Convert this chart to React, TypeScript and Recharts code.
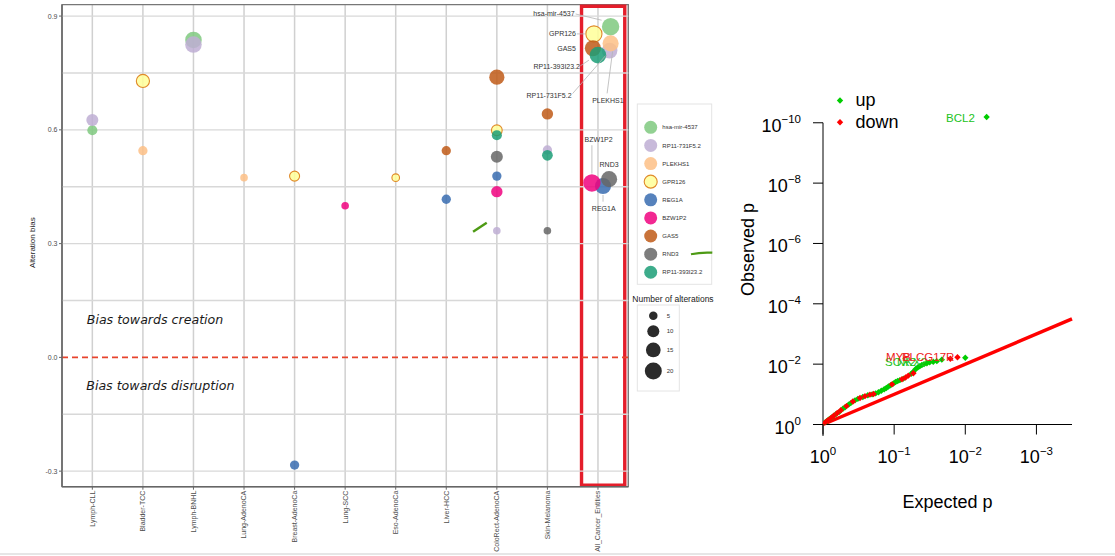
import React from "react";
import {
  ScatterChart,
  Scatter,
  XAxis,
  YAxis,
  CartesianGrid,
  ReferenceLine,
  ReferenceArea,
  ReferenceDot,
} from "recharts";

const SANS = "'Liberation Sans', Arial, Helvetica, sans-serif";

// ---------- left panel: alteration bias per cancer entity ----------
const cancerTypes = [
  "Lymph-CLL",
  "Bladder-TCC",
  "Lymph-BNHL",
  "Lung-AdenoCA",
  "Breast-AdenoCa",
  "Lung-SCC",
  "Eso-AdenoCa",
  "Liver-HCC",
  "ColoRect-AdenoCA",
  "Skin-Melanoma",
  "All_Cancer_Entities",
];

const genes = [
  "hsa-mir-4537",
  "RP11-731F5.2",
  "PLEKHS1",
  "GPR126",
  "REG1A",
  "BZW1P2",
  "GAS5",
  "RND3",
  "RP11-393I23.2",
];
const geneColors = [
  "#7fc97f",
  "#beaed4",
  "#fdc086",
  "#ffff99",
  "#386cb0",
  "#f0027f",
  "#bf5b17",
  "#666666",
  "#1b9e77",
];

// [cancer type index (jittered in the last column), alteration bias, number of alterations]
const hsaMir4537 = [[0, 0.599, 7], [2, 0.837, 19], [10.25, 0.872, 21]];
const rp11731F52 = [[0, 0.626, 10], [2, 0.825, 19], [8, 0.334, 4], [9, 0.547, 6], [10.23, 0.809, 17]];
const plekhs1 = [[1, 0.545, 6], [3, 0.474, 4], [10.25, 0.828, 18]];
const gpr126 = [[1, 0.729, 12], [4, 0.478, 7], [6, 0.474, 4], [8, 0.599, 8], [9.92, 0.853, 18]];
const reg1a = [[4, -0.284, 6], [7, 0.417, 6], [8, 0.478, 6], [10.1, 0.452, 18]];
const bzw1p2 = [[5, 0.4, 4], [8, 0.437, 9], [9.88, 0.46, 21]];
const gas5 = [[7, 0.545, 6], [8, 0.739, 16], [9, 0.642, 9], [9.9, 0.815, 18]];
const rnd3 = [[8, 0.529, 10], [9, 0.334, 4], [10.22, 0.47, 18]];
const rp11393I232 = [[8, 0.586, 7], [9, 0.533, 8], [10, 0.797, 19]];

const biasTicks = [-0.3, 0, 0.3, 0.6, 0.9];
const biasGrid = [-0.3, -0.15, 0.15, 0.3, 0.45, 0.6, 0.75, 0.9];
const sizeLegend = [5, 10, 15, 20];

// ---------- right panel: QQ plot, -log10 p ----------
// [expected, observed]
const qqUp = [
  [0.02, 0.05], [0.05, 0.11], [0.09, 0.18], [0.13, 0.25], [0.18, 0.34], [0.23, 0.42],
  [0.28, 0.52], [0.31, 0.57], [0.36, 0.66], [0.39, 0.71], [0.45, 0.8], [0.49, 0.85],
  [0.56, 0.91], [0.63, 0.97], [0.69, 1.0], [0.74, 1.03], [0.78, 1.07], [0.82, 1.12],
  [0.86, 1.17], [0.89, 1.21], [0.92, 1.26], [0.95, 1.3], [0.99, 1.36], [1.02, 1.41],
  [1.05, 1.44], [1.08, 1.47], [1.13, 1.52], [1.24, 1.68], [1.27, 1.75], [1.3, 1.83],
  [1.33, 1.89], [1.36, 1.93], [1.39, 1.97], [1.42, 2.0], [1.46, 2.03], [1.5, 2.06],
  [1.55, 2.08], [1.6, 2.1], [1.67, 2.15], [2.0, 2.21], [2.3, 10.19],
];
const qqDown = [
  [0.01, 0.02], [0.035, 0.08], [0.07, 0.14], [0.11, 0.21], [0.15, 0.29], [0.2, 0.38],
  [0.25, 0.47], [0.33, 0.61], [0.42, 0.76], [0.52, 0.88], [0.59, 0.94], [0.66, 0.99],
  [0.71, 1.01], [0.97, 1.33], [1.11, 1.5], [1.16, 1.56], [1.2, 1.62], [1.27, 1.7],
  [1.79, 2.18], [1.89, 2.23],
];
const qqLabels = [
  { gene: "BCL2", e: 1.73, o: 10.17, dir: "up" },
  { gene: "SOX2", e: 0.873, o: 2.06, dir: "up" },
  { gene: "NKX2", e: 1.04, o: 2.06, dir: "up" },
  { gene: "MYB", e: 0.887, o: 2.24, dir: "down" },
  { gene: "PLCG17R", e: 1.11, o: 2.24, dir: "down" },
];
const qqXTicks = [0, 1, 2, 3];
const qqYTicks = [0, 2, 4, 6, 8, 10];

const UP = "#00cd00";
const DOWN = "#ff0000";

// ---------- derived ----------
const geneSeries = [hsaMir4537, rp11731F52, plekhs1, gpr126, reg1a, bzw1p2, gas5, rnd3, rp11393I232];
const bubbleData = geneSeries.map((rows, i) =>
  rows.map(([x, y, n]) => ({ x, y, n, gene: genes[i], color: geneColors[i] }))
);
const allEntityPoints = bubbleData.flat().filter((p) => p.x > 9.5);
const bubbleR = (n: number) => 1.9 * Math.sqrt(n);

// label placement (ggrepel-like) for the All_Cancer_Entities column, px relative to bubble
const repel: Record<string, { dx: number; dy: number; anchor: string; seg?: number[] }> = {
  "hsa-mir-4537": { dx: -36, dy: -13, anchor: "end", seg: [-35, -12.7, -9, -6.5] },
  GPR126: { dx: -18, dy: 0, anchor: "end", seg: [-17, 0, -9, 0] },
  GAS5: { dx: -17, dy: 0, anchor: "end" },
  "RP11-393I23.2": { dx: -18, dy: 11.7, anchor: "end", seg: [-17.6, 10.7, -9, 5] },
  "RP11-731F5.2": { dx: -38, dy: 45, anchor: "end", seg: [-37, 43, -4, 5] },
  PLEKHS1: { dx: -2.7, dy: 57.4, anchor: "middle", seg: [-3.5, 50, 2, 8] },
  BZW1P2: { dx: 6.7, dy: -43.4, anchor: "middle", seg: [0, -37.7, 0, -9.4] },
  RND3: { dx: 0, dy: -15, anchor: "middle" },
  REG1A: { dx: 0.7, dy: 23, anchor: "middle", seg: [0, 9, 0, 15.7] },
};

const Bubble = (props: any) => {
  const { cx, cy, payload } = props;
  const isGpr = payload.gene === "GPR126";
  return (
    <circle
      cx={cx}
      cy={cy}
      r={bubbleR(payload.n)}
      fill={payload.color}
      fillOpacity={0.85}
      stroke={isGpr ? "#e08a2a" : "none"}
      strokeWidth={1.1}
    />
  );
};

const RepelLabel = (props: any) => {
  const { cx, cy, payload } = props;
  const o = repel[payload.gene];
  return (
    <g>
      {o.seg && (
        <line
          x1={cx + o.seg[0]}
          y1={cy + o.seg[1]}
          x2={cx + o.seg[2]}
          y2={cy + o.seg[3]}
          stroke="#b5b5b5"
          strokeWidth={0.8}
        />
      )}
      <text
        x={cx + o.dx}
        y={cy + o.dy}
        dy="0.35em"
        textAnchor={o.anchor}
        fontSize={7}
        fontFamily={SANS}
        fill="#333"
      >
        {payload.gene}
      </text>
    </g>
  );
};

const CancerTick = (props: any) => {
  const { x, y, payload } = props;
  return (
    <text
      x={x}
      y={y}
      transform={`rotate(-90 ${x} ${y})`}
      textAnchor="end"
      dy="0.35em"
      fontSize={7}
      fontFamily={SANS}
      fill="#4d4d4d"
    >
      {cancerTypes[payload.value]}
    </text>
  );
};

const BiasTick = (props: any) => {
  const { x, y, payload } = props;
  return (
    <text x={x} y={y} dy="0.35em" textAnchor="end" fontSize={7} fontFamily={SANS} fill="#4d4d4d">
      {payload.value.toFixed(1)}
    </text>
  );
};

const BiasNote = (text: string) => (p: any) =>
  (
    <text
      x={p.cx}
      y={p.cy}
      dy="0.35em"
      fontSize={12.6}
      fontStyle="italic"
      fontFamily="'DejaVu Sans', sans-serif"
      fill="#1a1a1a"
    >
      {text}
    </text>
  );

function AlterationBiasChart() {
  return (
    <ScatterChart width={630} height={556} margin={{ top: 4.7, right: 1.7, bottom: 0, left: 0 }}>
      <CartesianGrid horizontal={false} stroke="#d0d0d0" strokeWidth={1.5} />
      {biasGrid.map((v) => (
        <ReferenceLine key={v} y={v} stroke="#d8d8d8" strokeWidth={1.4} />
      ))}
      <XAxis
        type="number"
        dataKey="x"
        domain={[-0.6, 10.6]}
        ticks={cancerTypes.map((_, i) => i)}
        interval={0}
        allowDataOverflow
        height={69.3}
        tickSize={3}
        tickMargin={1}
        axisLine={{ stroke: "#666", strokeWidth: 1.4 }}
        tickLine={{ stroke: "#666" }}
        tick={(p: any) => <CancerTick {...p} />}
      />
      <YAxis
        type="number"
        dataKey="y"
        domain={[-0.341, 0.93]}
        ticks={biasTicks}
        interval={0}
        allowDataOverflow
        width={62}
        tickSize={3}
        tickMargin={1.5}
        axisLine={{ stroke: "#666", strokeWidth: 1.4 }}
        tickLine={{ stroke: "#666" }}
        tick={(p: any) => <BiasTick {...p} />}
        label={(p: any) => {
          const vb = p.viewBox;
          const cx = vb.x + 32;
          const cy = vb.y + vb.height / 2 - 3;
          return (
            <text
              x={cx}
              y={cy}
              transform={`rotate(-90 ${cx} ${cy})`}
              textAnchor="middle"
              dy="0.35em"
              fontSize={8}
              fontFamily={SANS}
              fill="#1a1a1a"
            >
              Alteration bias
            </text>
          );
        }}
      />
      <ReferenceArea x1={-0.6} x2={10.6} y1={-0.341} y2={0.93} fill="none" stroke="#777" strokeWidth={1.3} />
      <ReferenceLine y={0} stroke="#e8432c" strokeWidth={1.7} strokeDasharray="6 4" />
      <ReferenceDot x={-0.11} y={0.1} r={0} shape={BiasNote("Bias towards creation")} />
      <ReferenceDot x={-0.12} y={-0.075} r={0} shape={BiasNote("Bias towards disruption")} />
      <ReferenceLine
        segment={[
          { x: 7.53, y: 0.331 },
          { x: 7.8, y: 0.355 },
        ]}
        stroke="#4d9a14"
        strokeWidth={2.4}
      />
      {bubbleData.map((d, i) => (
        <Scatter key={genes[i]} data={d} shape={Bubble} isAnimationActive={false} />
      ))}
      <Scatter data={allEntityPoints} shape={RepelLabel} isAnimationActive={false} />
      <ReferenceArea
        x1={9.675}
        x2={10.53}
        y1={-0.337}
        y2={0.926}
        fill="none"
        stroke="#e41e2b"
        strokeWidth={3.4}
      />
    </ScatterChart>
  );
}

// ---------- QQ plot ----------
const powText = (v: number) => (v === 0 ? "0" : `\u2212${v}`);

const PowYTick = (props: any) => {
  const { x, y, payload } = props;
  return (
    <text x={x} y={y} textAnchor="end" fontSize={18} fontFamily={SANS} fill="#000">
      <tspan dy={9}>10</tspan>
      <tspan dy={-9} fontSize={11.5}>
        {powText(payload.value)}
      </tspan>
    </text>
  );
};

const PowXTick = (props: any) => {
  const { x, y, payload } = props;
  return (
    <text x={x} y={y} textAnchor="middle" fontSize={18} fontFamily={SANS} fill="#000">
      <tspan dy={28.8}>10</tspan>
      <tspan dy={-8.3} fontSize={11.5}>
        {powText(payload.value)}
      </tspan>
    </text>
  );
};

const diamond = (color: string) => (props: any) => {
  const { cx, cy } = props;
  const r = 3.2;
  return <polygon points={`${cx},${cy - r} ${cx + r},${cy} ${cx},${cy + r} ${cx - r},${cy}`} fill={color} />;
};

const QQLabel = (props: any) => {
  const { cx, cy, payload } = props;
  return (
    <text
      x={cx}
      y={cy}
      dy="0.35em"
      fontSize={11.5}
      fontFamily={SANS}
      fill={payload.dir === "up" ? "#22c322" : "#ee2020"}
    >
      {payload.gene}
    </text>
  );
};

const upPts = qqUp.map(([e, o]) => ({ e, o }));
const downPts = qqDown.map(([e, o]) => ({ e, o }));

function QQChart() {
  return (
    <ScatterChart width={385} height={556} margin={{ top: 74.5, right: 43, bottom: 0, left: 0 }}>
      <XAxis
        type="number"
        dataKey="e"
        domain={[0, 3.5]}
        ticks={qqXTicks}
        interval={0}
        allowDataOverflow
        height={131.5}
        tickSize={10}
        tickMargin={0}
        axisLine={{ stroke: "#000" }}
        tickLine={{ stroke: "#000" }}
        tick={(p: any) => <PowXTick {...p} />}
        label={(p: any) => {
          const vb = p.viewBox;
          return (
            <text
              x={vb.x + vb.width / 2}
              y={vb.y + 83.5}
              textAnchor="middle"
              fontSize={18}
              fontFamily={SANS}
              fill="#000"
            >
              Expected p
            </text>
          );
        }}
      />
      <YAxis
        type="number"
        dataKey="o"
        domain={[0, 11.6]}
        ticks={qqYTicks}
        interval={0}
        allowDataOverflow
        width={93}
        tickSize={10}
        tickMargin={12}
        axisLine={false}
        tickLine={{ stroke: "#000" }}
        tick={(p: any) => <PowYTick {...p} />}
        label={(p: any) => {
          const vb = p.viewBox;
          const cx = vb.x + 18;
          const cy = vb.y + vb.height / 2;
          return (
            <text
              x={cx}
              y={cy}
              transform={`rotate(-90 ${cx} ${cy})`}
              textAnchor="middle"
              dy="0.35em"
              fontSize={18}
              fontFamily={SANS}
              fill="#000"
            >
              Observed p
            </text>
          );
        }}
      />
      <ReferenceLine
        segment={[
          { x: 0, y: -0.38 },
          { x: 0, y: 10 },
        ]}
        stroke="#000"
        ifOverflow="visible"
      />
      <ReferenceLine
        segment={[
          { x: 0, y: 0 },
          { x: 3.5, y: 3.5 },
        ]}
        stroke="#ff0000"
        strokeWidth={3.5}
      />
      <Scatter data={upPts} shape={diamond(UP)} isAnimationActive={false} />
      <Scatter data={downPts} shape={diamond(DOWN)} isAnimationActive={false} />
      <Scatter data={qqLabels} dataKey="o" shape={QQLabel} isAnimationActive={false} />
    </ScatterChart>
  );
}

function Legends() {
  const sizeY: number[] = [];
  sizeLegend.forEach((n, i) => {
    if (i === 0) sizeY.push(315.7);
    else sizeY.push(sizeY[i - 1] + bubbleR(sizeLegend[i - 1]) + bubbleR(n) + 5.3);
  });
  return (
    <svg
      width={1115}
      height={556}
      style={{ position: "absolute", left: 0, top: 0, pointerEvents: "none" }}
      fontFamily={SANS}
    >
      <rect x={637.3} y={104} width={74.4} height={180.3} fill="#fff" stroke="#e4e4e4" />
      {genes.map((g, i) => {
        const cy = 127.3 + i * 18.12;
        return (
          <g key={g}>
            <circle
              cx={650.7}
              cy={cy}
              r={6.5}
              fill={geneColors[i]}
              fillOpacity={0.85}
              stroke={g === "GPR126" ? "#e08a2a" : "none"}
              strokeWidth={1.1}
            />
            <text x={662.3} y={cy} dy="0.35em" fontSize={6} fill="#333">
              {g}
            </text>
          </g>
        );
      })}
      <path d="M691,254.3 Q701,252 712.3,252.7" stroke="#4d9a14" strokeWidth={2.2} fill="none" />
      <text x={673} y={302} textAnchor="middle" fontSize={8.5} fill="#1a1a1a">
        Number of alterations
      </text>
      <rect x={637.3} y={305} width={42} height={86} fill="none" stroke="#e4e4e4" />
      {sizeLegend.map((n, i) => (
        <g key={n}>
          <circle cx={653.3} cy={sizeY[i]} r={bubbleR(n)} fill="#2b2b2b" />
          <text x={666.7} y={sizeY[i]} dy="0.35em" fontSize={6} fill="#333">
            {n}
          </text>
        </g>
      ))}
      {[
        { name: "up", color: UP },
        { name: "down", color: DOWN },
      ].map((d, i) => {
        const cy = 100.5 + i * 21.8;
        const r = 3.2;
        return (
          <g key={d.name}>
            <polygon points={`840,${cy - r} ${840 + r},${cy} 840,${cy + r} ${840 - r},${cy}`} fill={d.color} />
            <text x={855.5} y={cy + 5.5} fontSize={18} fill="#000">
              {d.name}
            </text>
          </g>
        );
      })}
      <rect x={0} y={553} width={1115} height={2} fill="#e6e6e6" />
    </svg>
  );
}

export default function App() {
  return (
    <div
      style={{
        position: "absolute",
        left: 0,
        top: 0,
        width: 1115,
        height: 556,
        background: "#fff",
        overflow: "hidden",
      }}
    >
      <div style={{ position: "absolute", left: 0, top: 0 }}>
        <AlterationBiasChart />
      </div>
      <div style={{ position: "absolute", left: 730, top: 0 }}>
        <QQChart />
      </div>
      <Legends />
    </div>
  );
}
